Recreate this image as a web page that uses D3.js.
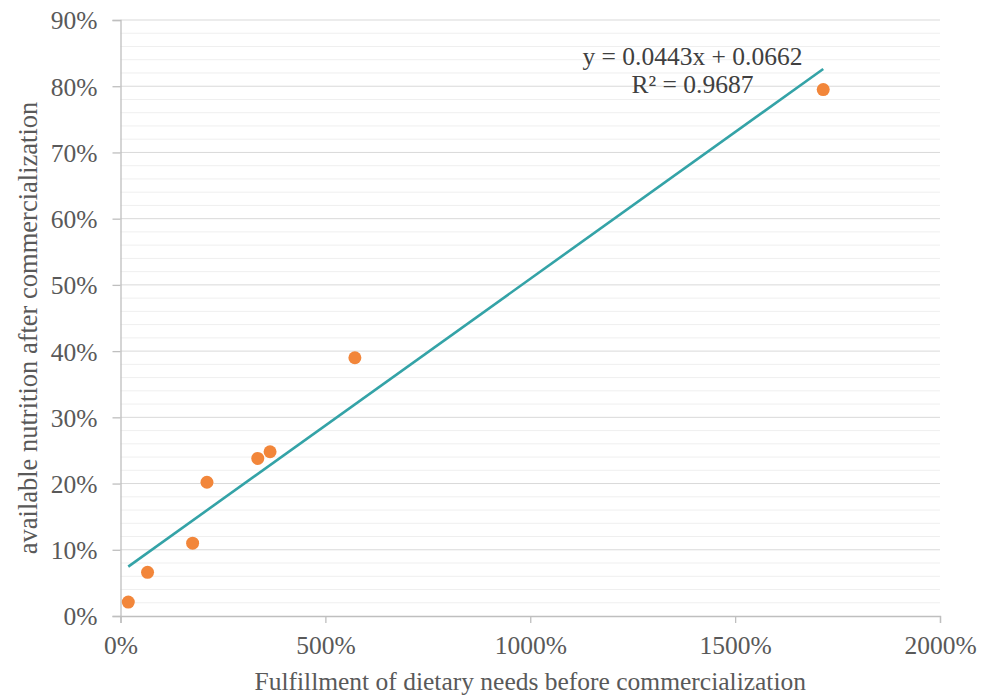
<!DOCTYPE html>
<html>
<head>
<meta charset="utf-8">
<script src="https://cdn.jsdelivr.net/npm/d3@7"></script>
<style>
  body { margin: 0; background: #fff; }
  text { font-family: "Liberation Serif", "Times New Roman", serif; }
</style>
</head>
<body>
<div id="chart"></div>
<script>
// fulfillment before commercialization (%), available nutrition after (%)
const before_pct = [19, 66, 176, 211, 335, 365, 572, 1715];
const after_pct = [2.1, 6.6, 11.0, 20.2, 23.8, 24.8, 39.0, 79.5];
const x_ticks = [0, 500, 1000, 1500, 2000];
const y_ticks = [0, 10, 20, 30, 40, 50, 60, 70, 80, 90];
const trend_slope = 0.0443;
const trend_intercept = 0.0662;
const trend_r2 = 0.9687;

const full_w = 981, full_h = 697;
const margin = { top: 20, right: 41, bottom: 81, left: 120.5 };
const width = full_w - margin.left - margin.right;
const height = full_h - margin.top - margin.bottom;

const svg = d3.select("#chart").append("svg")
    .attr("width", full_w)
    .attr("height", full_h);
const g = svg.append("g")
    .attr("transform", `translate(${margin.left},${margin.top})`);

const x = d3.scaleLinear().domain([0, 2000]).range([0, width]);
const y = d3.scaleLinear().domain([0, 90]).range([height, 0]);

// minor gridlines every 2%
g.append("g")
    .selectAll("line")
    .data(d3.range(0, 90, 2).filter(d => d % 10 !== 0))
    .enter().append("line")
    .attr("x1", 0).attr("x2", width)
    .attr("y1", d => y(d)).attr("y2", d => y(d))
    .attr("stroke", "#efefef")
    .attr("stroke-width", 1);

// major gridlines
g.append("g")
    .selectAll("line")
    .data(y_ticks.filter(d => d > 0))
    .enter().append("line")
    .attr("x1", 0).attr("x2", width)
    .attr("y1", d => y(d)).attr("y2", d => y(d))
    .attr("stroke", "#d9d9d9")
    .attr("stroke-width", 1);

const x_axis = g.append("g")
    .attr("transform", `translate(0,${height})`)
    .call(d3.axisBottom(x).tickValues(x_ticks).tickSize(7).tickPadding(13)
        .tickFormat(d => d + "%"));

const y_axis = g.append("g")
    .call(d3.axisLeft(y).tickValues(y_ticks).tickSize(8).tickPadding(15)
        .tickFormat(d => d + "%"));

[x_axis, y_axis].forEach(a => {
    a.select(".domain").attr("stroke", "#bfbfbf").attr("stroke-width", 1.3);
    a.selectAll(".tick line").attr("stroke", "#bfbfbf").attr("stroke-width", 1.3);
    a.selectAll(".tick text")
        .attr("fill", "#595959")
        .style("font-size", "25.5px")
        .style("font-family", "'Liberation Serif', serif");
});
y_axis.selectAll(".tick text").attr("dy", "0.35em");

// trendline across the data range
const x_min = d3.min(before_pct), x_max = d3.max(before_pct);
const trend = [x_min, x_max].map(v => ({ x: v, y: (trend_slope * v / 100 + trend_intercept) * 100 }));
g.append("path")
    .datum(trend)
    .attr("fill", "none")
    .attr("stroke", "#34a3a7")
    .attr("stroke-width", 2.6)
    .attr("d", d3.line().x(d => x(d.x)).y(d => y(d.y)));

// points
g.append("g")
    .selectAll("circle")
    .data(before_pct.map((v, i) => ({ x: v, y: after_pct[i] })))
    .enter().append("circle")
    .attr("cx", d => x(d.x))
    .attr("cy", d => y(d.y))
    .attr("r", 6.5)
    .attr("fill", "#f2863a");

// equation label
g.append("text")
    .attr("x", 572)
    .attr("y", 45)
    .attr("text-anchor", "middle")
    .attr("fill", "#404040")
    .style("font-size", "25.5px")
    .text(`y = ${trend_slope}x + ${trend_intercept}`);
g.append("text")
    .attr("x", 572)
    .attr("y", 73)
    .attr("text-anchor", "middle")
    .attr("fill", "#404040")
    .style("font-size", "25.5px")
    .text(`R² = ${trend_r2}`);

// axis titles
svg.append("text")
    .attr("x", margin.left + width / 2)
    .attr("y", 690)
    .attr("text-anchor", "middle")
    .attr("fill", "#595959")
    .style("font-size", "25.5px")
    .text("Fulfillment of dietary needs before commercialization");

svg.append("text")
    .attr("transform", "translate(37,328) rotate(-90)")
    .attr("text-anchor", "middle")
    .attr("fill", "#595959")
    .style("font-size", "26.5px")
    .text("available nutrition after commercialization");
</script>
</body>
</html>
